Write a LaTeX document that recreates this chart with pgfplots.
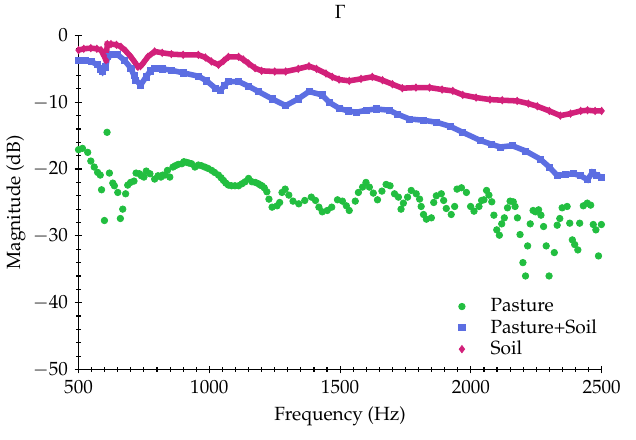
\documentclass[border=0pt]{standalone}
\usepackage[T1]{fontenc}
\usepackage{mathpazo}
\usepackage{pgfplots}
\pgfplotsset{compat=1.18}

\definecolor{pasture}{RGB}{34,190,64}
\definecolor{pastsoil}{RGB}{92,110,226}
\definecolor{soil}{RGB}{210,32,122}

\begin{document}
\begin{tikzpicture}
\begin{axis}[
    scale only axis,
    width=274pt, height=175pt,
    xmin=500, xmax=2500, ymin=-50, ymax=0,
    axis x line*=bottom, axis y line*=left,
    axis line style={-, black},
    xtick={500,1000,...,2500}, ytick={-50,-40,...,0},
    minor x tick num=9, minor y tick num=4,
    tick align=center,
    major tick length=4pt, minor tick length=2.5pt,
    tick style={black, semithick},
    xticklabel style={/pgf/number format/1000 sep={}},
    title={$\Gamma$},
    title style={inner sep=0pt, yshift=2.7pt},
    xlabel={Frequency (Hz)},
    ylabel={Magnitude (dB)},
    ylabel style={yshift=-3pt},
    legend style={at={(1.01,0.012)}, anchor=south east, draw=none, fill=none,
        row sep=-1.5pt, cells={anchor=west}},
    legend image code/.code={\path (-0.1cm,0cm) (0.45cm,0cm);
        \draw[#1] plot coordinates {(0cm,0cm)};},
    legend cell align=left,
]
% band lines behind the dense marker series
\addplot[pastsoil, line width=2.9pt, forget plot] coordinates {
(500,-3.7) (525,-3.8) (548,-3.9) (573,-4.4) (585,-5.0) (592,-5.4) (604,-4.7)
(611,-3.2) (630,-2.9) (650,-2.9) (675,-3.7) (700,-4.9) (712,-6.0) (719,-6.7)
(738,-7.4) (758,-6.2) (775,-5.3) (792,-4.9) (820,-5.0) (854,-5.2) (900,-5.6)
(958,-6.1) (990,-6.8) (1023,-7.9) (1042,-8.2) (1058,-7.5) (1073,-6.9) (1112,-6.9)
(1150,-7.6) (1188,-8.4) (1240,-9.5) (1292,-10.5) (1340,-9.5) (1381,-8.4) (1431,-8.9)
(1458,-10.0) (1496,-10.9) (1530,-11.3) (1562,-11.5) (1600,-11.2) (1638,-11.0)
(1688,-11.2) (1720,-11.8) (1765,-12.5) (1820,-12.7) (1869,-13.0) (1920,-13.6)
(1969,-14.5) (2035,-15.7) (2080,-16.3) (2112,-16.7) (2158,-16.5) (2210,-17.3)
(2265,-18.5) (2300,-19.7) (2331,-21.0) (2360,-20.8) (2392,-20.7) (2420,-21.0)
(2446,-21.6) (2465,-20.5) (2480,-20.9) (2500,-21.2)};
\addplot[soil, line width=2.9pt, forget plot] coordinates {
(500,-2.2) (520,-2.0) (547,-1.9) (570,-2.0) (586,-2.2) (597,-3.0) (605,-3.7)
(610,-1.3) (624,-1.3) (645,-1.4) (662,-1.7) (680,-2.3) (700,-3.2) (715,-4.0)
(727,-4.7) (737,-4.6) (746,-4.2) (765,-3.2) (791,-2.4) (820,-2.6) (855,-2.8)
(900,-2.9) (958,-2.9) (985,-3.3) (1008,-3.9) (1035,-4.4) (1055,-3.8) (1073,-3.2)
(1112,-3.2) (1130,-3.6) (1150,-4.2) (1175,-4.9) (1200,-5.3) (1250,-5.4) (1292,-5.4)
(1340,-5.0) (1381,-4.6) (1410,-5.0) (1446,-5.7) (1470,-6.2) (1496,-6.6) (1535,-6.8)
(1580,-6.5) (1623,-6.2) (1662,-6.7) (1700,-7.3) (1738,-7.9) (1790,-7.8) (1842,-7.8)
(1890,-8.1) (1931,-8.3) (1969,-8.9) (2020,-9.3) (2073,-9.6) (2120,-9.7) (2177,-9.8)
(2220,-10.2) (2254,-10.6) (2300,-11.3) (2342,-12.0) (2381,-11.7) (2420,-11.3)
(2446,-11.2) (2475,-11.3) (2500,-11.3)};

\addplot[only marks, mark=*, mark size=1.7pt, color=pasture] coordinates {
(500,-17.1) (515,-16.9) (535,-17.5) (547,-18.8) (560,-19.7) (573,-20.5) (583,-20.9)
(588,-23.1) (599,-27.7) (609,-14.5) (618,-20.6) (631,-22.1) (637,-22.5) (650,-23.5)
(660,-27.4) (669,-26.0) (680,-23.7) (688,-22.4) (699,-22.0) (712,-21.8) (720,-20.6)
(733,-20.7) (740,-21.0) (750,-21.2) (759,-20.3) (773,-20.7) (791,-21.5) (804,-21.0)
(815,-21.2) (822,-20.9) (830,-20.9) (840,-20.2) (849,-21.2) (861,-19.7) (870,-19.5)
(881,-19.3) (895,-19.2) (903,-18.9) (913,-19.0) (922,-19.1) (932,-19.2) (945,-19.7)
(958,-19.4) (970,-19.5) (983,-19.7) (995,-19.9) (1009,-20.2) (1020,-20.5) (1035,-20.9)
(1045,-21.3) (1054,-21.7) (1063,-22.1) (1073,-22.4) (1085,-22.5) (1098,-22.5)
(1112,-22.5) (1125,-22.2) (1137,-21.9) (1150,-21.4) (1163,-21.9) (1176,-22.0)
(1188,-22.2) (1195,-22.4) (1201,-22.5) (1210,-22.8) (1220,-23.4) (1228,-24.5)
(1240,-25.7) (1259,-25.5) (1269,-25.0) (1278,-23.5) (1290,-23.0) (1304,-23.9)
(1320,-24.8) (1342,-25.2) (1365,-24.7) (1390,-24.2) (1406,-24.7) (1419,-25.7)
(1432,-26.4) (1451,-26.2) (1468,-25.7) (1490,-24.6) (1509,-24.8) (1524,-25.5)
(1535,-26.2) (1558,-24.8) (1570,-23.5) (1586,-22.7) (1599,-22.0) (1612,-22.7)
(1627,-23.6) (1643,-24.6) (1660,-23.3) (1676,-22.3) (1691,-22.5) (1708,-23.7)
(1723,-24.2) (1733,-26.0) (1742,-25.1) (1758,-24.2) (1772,-23.2) (1791,-23.7)
(1804,-24.5) (1810,-25.6) (1819,-26.8) (1830,-27.5) (1849,-27.3) (1858,-25.0)
(1868,-24.0) (1887,-23.7) (1896,-24.7) (1906,-25.9) (1925,-26.8) (1938,-25.6)
(1947,-23.0) (1964,-22.8) (1983,-23.5) (1999,-25.6) (2012,-26.3) (2031,-25.6)
(2041,-24.7) (2050,-24.6) (2060,-23.2) (2069,-23.9) (2080,-24.9) (2088,-26.9)
(2099,-29.1) (2109,-29.9) (2118,-28.2) (2128,-27.3) (2140,-25.8) (2150,-24.8)
(2162,-24.9) (2169,-25.6) (2178,-27.3) (2188,-29.8) (2199,-34.0) (2209,-36.0)
(2217,-31.5) (2227,-28.2) (2238,-26.2) (2247,-26.4) (2259,-26.1) (2268,-26.9)
(2278,-28.6) (2288,-31.5) (2299,-36.0) (2319,-32.5) (2330,-28.4) (2340,-27.4)
(2349,-25.8) (2368,-25.6) (2378,-28.1) (2388,-30.6) (2397,-31.3) (2409,-32.1)
(2416,-28.1) (2430,-25.5) (2445,-25.1) (2458,-25.4) (2468,-28.3) (2478,-29.1)
(2488,-33.0) (2499,-28.3)};
\addlegendentry{Pasture}

\addplot[only marks, mark=square*, mark size=1.6pt, color=pastsoil] coordinates {
(500,-3.7) (525,-3.8) (548,-3.9) (573,-4.4) (585,-5.0) (592,-5.4) (604,-4.7)
(611,-3.2) (630,-2.9) (650,-2.9) (675,-3.7) (700,-4.9) (712,-6.0) (719,-6.7)
(738,-7.4) (758,-6.2) (775,-5.3) (792,-4.9) (820,-5.0) (854,-5.2) (900,-5.6)
(958,-6.1) (990,-6.8) (1023,-7.9) (1042,-8.2) (1058,-7.5) (1073,-6.9) (1112,-6.9)
(1150,-7.6) (1188,-8.4) (1240,-9.5) (1292,-10.5) (1340,-9.5) (1381,-8.4) (1431,-8.9)
(1458,-10.0) (1496,-10.9) (1530,-11.3) (1562,-11.5) (1600,-11.2) (1638,-11.0)
(1688,-11.2) (1720,-11.8) (1765,-12.5) (1820,-12.7) (1869,-13.0) (1920,-13.6)
(1969,-14.5) (2035,-15.7) (2080,-16.3) (2112,-16.7) (2158,-16.5) (2210,-17.3)
(2265,-18.5) (2300,-19.7) (2331,-21.0) (2360,-20.8) (2392,-20.7) (2420,-21.0)
(2446,-21.6) (2465,-20.5) (2480,-20.9) (2500,-21.2)};
\addlegendentry{Pasture+Soil}

\addplot[only marks, mark=diamond*, mark size=1.9pt, color=soil] coordinates {
(500,-2.2) (520,-2.0) (547,-1.9) (570,-2.0) (586,-2.2) (597,-3.0) (605,-3.7)
(610,-1.3) (624,-1.3) (645,-1.4) (662,-1.7) (680,-2.3) (700,-3.2) (715,-4.0)
(727,-4.7) (737,-4.6) (746,-4.2) (765,-3.2) (791,-2.4) (820,-2.6) (855,-2.8)
(900,-2.9) (958,-2.9) (985,-3.3) (1008,-3.9) (1035,-4.4) (1055,-3.8) (1073,-3.2)
(1112,-3.2) (1130,-3.6) (1150,-4.2) (1175,-4.9) (1200,-5.3) (1250,-5.4) (1292,-5.4)
(1340,-5.0) (1381,-4.6) (1410,-5.0) (1446,-5.7) (1470,-6.2) (1496,-6.6) (1535,-6.8)
(1580,-6.5) (1623,-6.2) (1662,-6.7) (1700,-7.3) (1738,-7.9) (1790,-7.8) (1842,-7.8)
(1890,-8.1) (1931,-8.3) (1969,-8.9) (2020,-9.3) (2073,-9.6) (2120,-9.7) (2177,-9.8)
(2220,-10.2) (2254,-10.6) (2300,-11.3) (2342,-12.0) (2381,-11.7) (2420,-11.3)
(2446,-11.2) (2475,-11.3) (2500,-11.3)};
\addlegendentry{Soil}
\end{axis}
% extra white room on the right, above and below, as in the reference
\path (current axis.south east) ++(18pt,0pt);
\path (current axis.outer north) ++(0pt,2.7pt);
\path (current axis.outer south) ++(0pt,-3.5pt);
\end{tikzpicture}
\end{document}
